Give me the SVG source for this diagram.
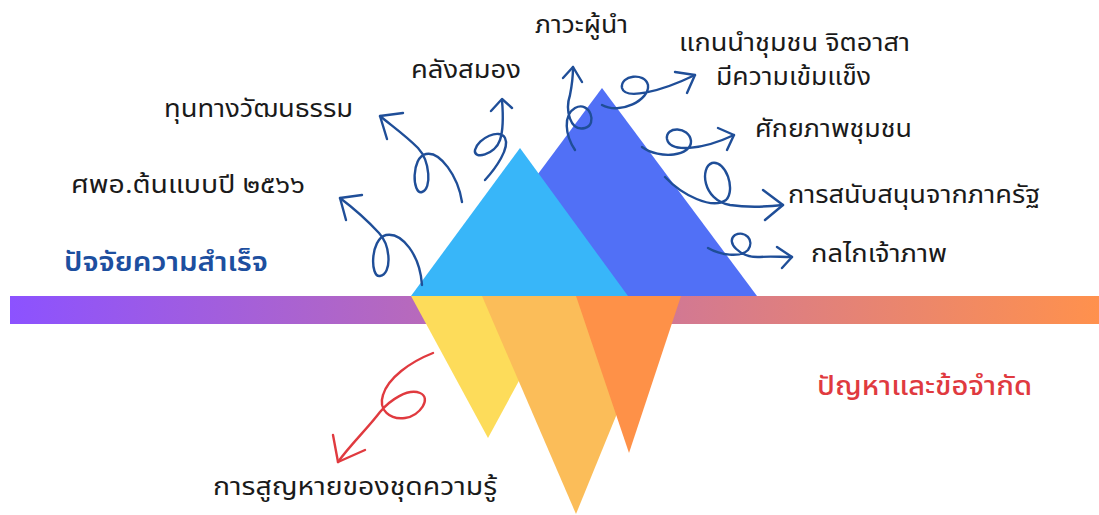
<svg xmlns="http://www.w3.org/2000/svg" width="1099" height="515" viewBox="0 0 1099 515">
  <defs>
    <linearGradient id="barGrad" x1="0" y1="0" x2="1" y2="0">
      <stop offset="0" stop-color="#8c52ff"/>
      <stop offset="1" stop-color="#ff914d"/>
    </linearGradient>
    <style>
      .lbl { font-family: "Noto Sans Thai", "Noto Sans", "DejaVu Sans", sans-serif; font-size: 24px; fill: #1a1a1a; }
      .title-up { font-family: "Noto Sans Thai", "Noto Sans", "DejaVu Sans", sans-serif; font-size: 27px; font-weight: 600; fill: #1d4f9f; }
      .title-down { font-family: "Noto Sans Thai", "Noto Sans", "DejaVu Sans", sans-serif; font-size: 26px; font-weight: 500; fill: #e03a3f; }
      .sq { fill: none; stroke: #1f4e98; stroke-width: 2.4; stroke-linecap: round; stroke-linejoin: round; }
      .sq-red { fill: none; stroke: #e03a3f; stroke-width: 2.4; stroke-linecap: round; stroke-linejoin: round; }
    </style>
  </defs>
  <rect width="1099" height="515" fill="#ffffff"/>

  <g id="waterline">
    <rect x="10" y="296" width="1089" height="28" fill="url(#barGrad)"/>
  </g>

  <g id="iceberg-top">
    <polygon id="peak-dark" points="602,88 757,296 447,296" fill="#5170f6"/>
    <polygon id="peak-light" points="520,148 628,296 411,296" fill="#38b6f9"/>
  </g>

  <g id="iceberg-bottom">
    <polygon id="root-yellow" points="411,296 565,296 488,438" fill="#fddc5a"/>
    <polygon id="root-mid" points="482,296 665,296 576,514" fill="#fbbd59"/>
    <polygon id="root-orange" points="576,296 681,296 629,453" fill="#fe9148"/>
  </g>

  <g id="connectors">
    <g id="arrow-spa">
      <path class="sq" d="M422,285 C420,255 402,232 386,235 C370,239 370,278 380,276 C392,274 391,246 379,233 C366,219 352,207 340,198"/>
      <path class="sq" d="M362,195 L340,198 L346,220"/>
    </g>
    <g id="arrow-culture">
      <path class="sq" d="M462,202 C458,176 440,151 426,154 C411,157 412,195 422,192 C432,189 430,161 418,148 C405,135 392,126 380,116"/>
      <path class="sq" d="M403,113 L380,116 L387,139"/>
    </g>
    <g id="arrow-brain">
      <path class="sq" d="M485,180 C496,168 510,148 505,138 C500,128 478,138 475,150 C473,160 495,155 500,140 C504,128 503,112 502,100"/>
      <path class="sq" d="M491,111 L502,99 L512,108"/>
    </g>
    <g id="arrow-leader">
      <path class="sq" d="M575,150 C565,135 563,115 575,108 C590,100 598,125 585,128 C570,132 565,110 570,95 C572,85 573,75 573,67"/>
      <path class="sq" d="M563,78 L573,67 L582,82"/>
    </g>
    <g id="arrow-core">
      <path class="sq" d="M602,105 C620,115 650,100 648,85 C645,72 620,75 622,88 C625,100 660,92 695,75"/>
      <path class="sq" d="M675,72 L695,75 L687,93"/>
    </g>
    <g id="arrow-potential">
      <path class="sq" d="M642,147 C660,160 692,156 691,141 C689,126 665,126 667,139 C670,153 702,150 734,135"/>
      <path class="sq" d="M718,128 L734,135 L727,150"/>
    </g>
    <g id="arrow-state">
      <path class="sq" d="M665,177 C682,195 712,210 726,200 C736,190 726,160 712,163 C700,167 702,200 730,205 C750,208 765,207 783,205"/>
      <path class="sq" d="M763,190 L783,205 L765,220"/>
    </g>
    <g id="arrow-host">
      <path class="sq" d="M708,248 C720,255 740,258 748,250 C755,240 745,230 735,235 C725,242 740,258 760,257 C770,256 780,257 792,257"/>
      <path class="sq" d="M777,247 L792,257 L782,268"/>
    </g>
    <g id="arrow-loss">
      <path class="sq-red" d="M433,353 C410,362 388,378 383,395 C378,410 390,420 405,418 C420,416 432,398 420,393 C408,388 390,400 380,412 C368,428 350,445 338,462"/>
      <path class="sq-red" d="M333,435 L338,462 L365,450"/>
    </g>
  </g>

  <g id="label-leader"><text class="lbl" x="535" y="33" textLength="93" lengthAdjust="spacingAndGlyphs">ภาวะผู้นำ</text></g>
  <g id="label-core">
    <text class="lbl" x="679" y="51" textLength="231" lengthAdjust="spacingAndGlyphs">แกนนำชุมชน จิตอาสา</text>
    <text class="lbl" x="716" y="85" textLength="155" lengthAdjust="spacingAndGlyphs">มีความเข้มแข็ง</text>
  </g>
  <g id="label-brain"><text class="lbl" x="411" y="78" textLength="110" lengthAdjust="spacingAndGlyphs">คลังสมอง</text></g>
  <g id="label-culture"><text class="lbl" x="164" y="117" textLength="189" lengthAdjust="spacingAndGlyphs">ทุนทางวัฒนธรรม</text></g>
  <g id="label-spa"><text class="lbl" x="71" y="193" textLength="234" lengthAdjust="spacingAndGlyphs">ศพอ.ต้นแบบปี ๒๕๖๖</text></g>
  <g id="label-potential"><text class="lbl" x="755" y="137" textLength="157" lengthAdjust="spacingAndGlyphs">ศักยภาพชุมชน</text></g>
  <g id="label-state"><text class="lbl" x="788" y="203" textLength="252" lengthAdjust="spacingAndGlyphs">การสนับสนุนจากภาครัฐ</text></g>
  <g id="label-host"><text class="lbl" x="811" y="262" textLength="136" lengthAdjust="spacingAndGlyphs">กลไกเจ้าภาพ</text></g>
  <g id="label-success"><text class="title-up" x="64" y="271" textLength="204" lengthAdjust="spacingAndGlyphs">ปัจจัยความสำเร็จ</text></g>
  <g id="label-problems"><text class="title-down" x="817" y="395" textLength="215" lengthAdjust="spacingAndGlyphs">ปัญหาและข้อจำกัด</text></g>
  <g id="label-loss"><text class="lbl" x="213" y="495" textLength="284" lengthAdjust="spacingAndGlyphs">การสูญหายของชุดความรู้</text></g>
</svg>
